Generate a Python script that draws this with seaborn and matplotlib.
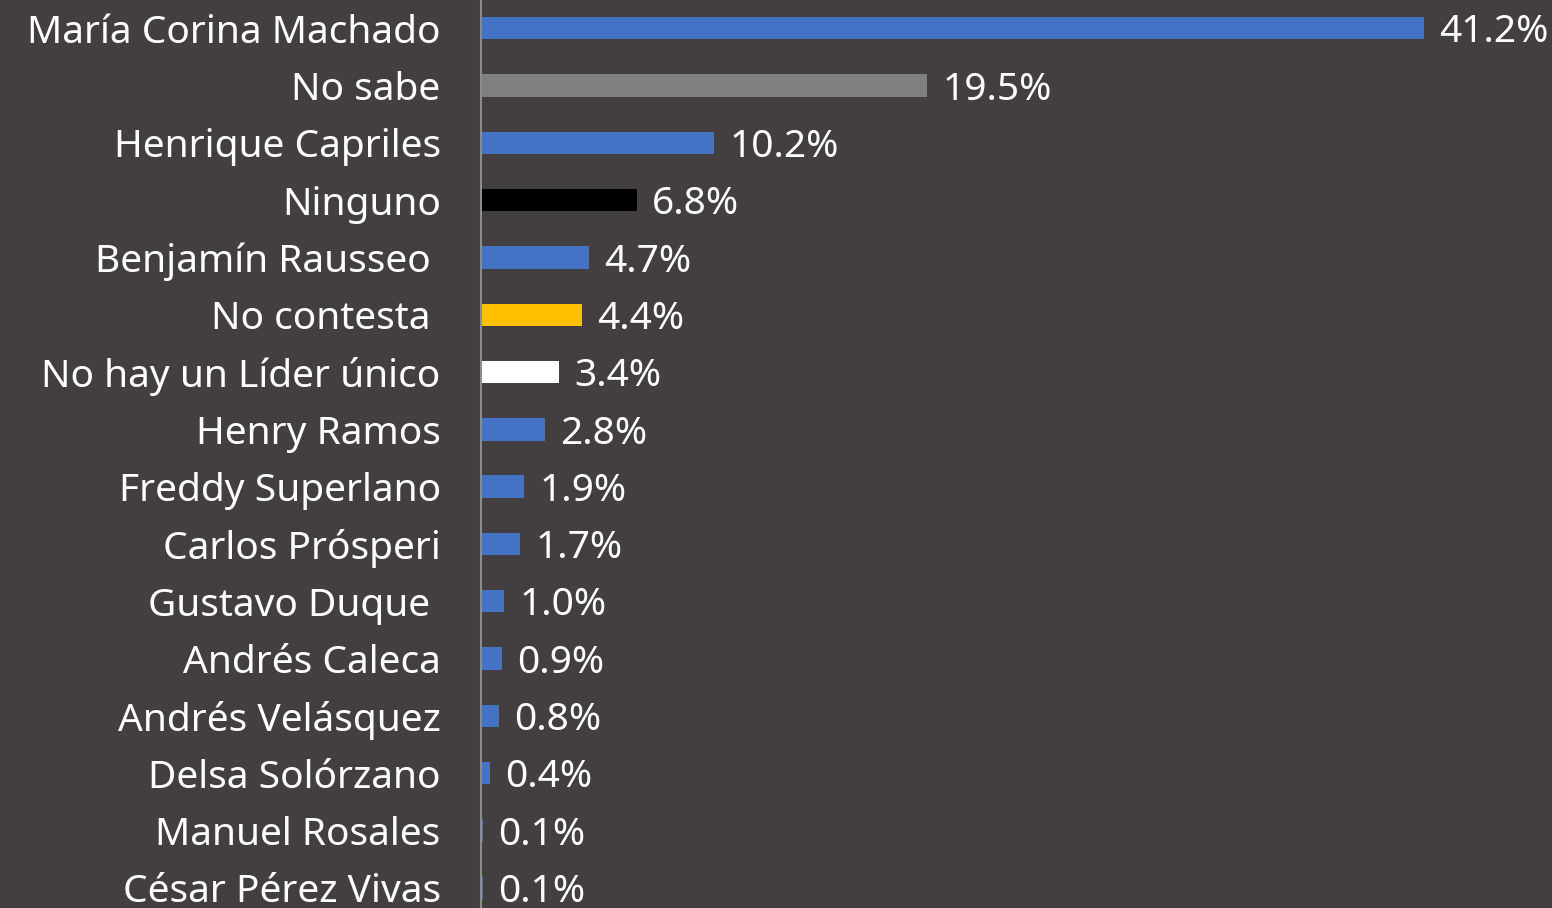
import matplotlib
matplotlib.use("Agg")
import matplotlib.pyplot as plt
import seaborn as sns

# Data
candidates = [
    "María Corina Machado", "No sabe", "Henrique Capriles", "Ninguno",
    "Benjamín Rausseo ", "No contesta ", "No hay un Líder único", "Henry Ramos",
    "Freddy Superlano", "Carlos Prósperi", "Gustavo Duque ", "Andrés Caleca",
    "Andrés Velásquez", "Delsa Solórzano", "Manuel Rosales", "César Pérez Vivas",
]
percent = [41.2, 19.5, 10.2, 6.8, 4.7, 4.4, 3.4, 2.8, 1.9, 1.7, 1.0, 0.9, 0.8, 0.4, 0.1, 0.1]
bar_colors = [
    "#4472C4", "#808080", "#4472C4", "#000000", "#4472C4", "#FFC000", "#FFFFFF", "#4472C4",
    "#4472C4", "#4472C4", "#4472C4", "#4472C4", "#4472C4", "#4472C4", "#4472C4", "#4472C4",
]

bg = "#433F40"

sns.set_style("dark")
plt.rcParams["font.family"] = ["Noto Sans", "DejaVu Sans"]

fig = plt.figure(figsize=(15.52, 9.08), dpi=100, facecolor=bg)
ax = fig.add_axes([0.3099, 0.0, 0.6901, 1.0], facecolor=bg)

sns.barplot(
    x=percent,
    y=candidates,
    hue=candidates,
    palette=bar_colors,
    legend=False,
    orient="h",
    width=0.39,
    saturation=1,
    linewidth=0,
    ax=ax,
)

# value labels, nudged down a little to sit like the original
for cont in ax.containers:
    anns = ax.bar_label(cont, fmt="%.1f%%", padding=11, color="white", fontsize=28)
    for a in anns:
        a.xyann = (11, -3)

ax.set_xlim(0, 46.8)
ax.set_ylim(15.35, -0.49)
ax.set_xlabel("")
ax.set_ylabel("")
ax.set_xticks([])
ax.grid(False)
ax.tick_params(axis="y", length=0, pad=29, labelsize=28, labelcolor="white")

for side in ["top", "right", "bottom"]:
    ax.spines[side].set_visible(False)
ax.spines["left"].set_color("#8C8C8C")
ax.spines["left"].set_linewidth(1.5)

fig.savefig("out.png", dpi=100, facecolor=bg)
